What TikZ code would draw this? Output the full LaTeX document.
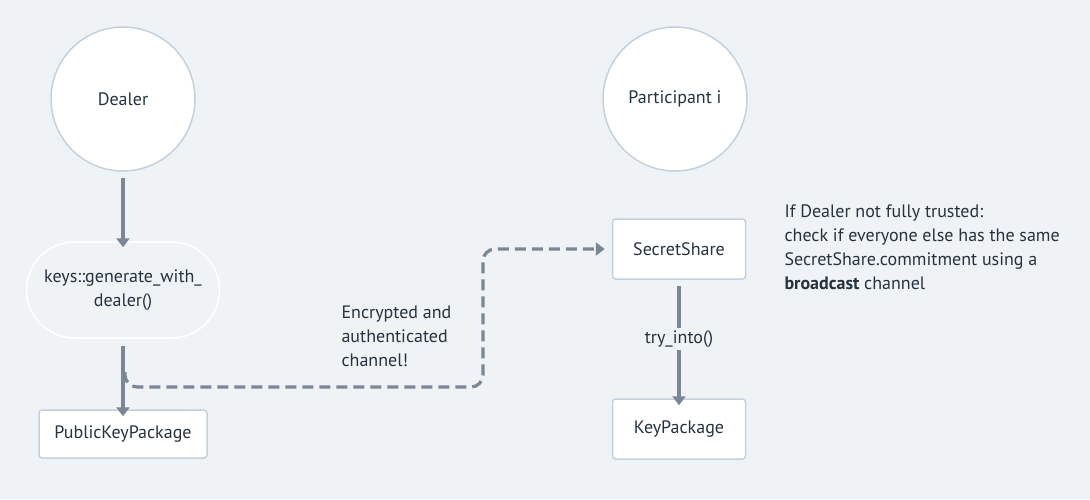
\documentclass[tikz,border=0pt]{standalone}
\usepackage{fontspec}
\setmainfont{PT Sans}
\usetikzlibrary{arrows.meta,positioning}
\definecolor{bg}{HTML}{EFF3F6}
\definecolor{edge}{HTML}{C5D1DC}
\definecolor{ink}{HTML}{27323F}
\definecolor{conn}{HTML}{7B8794}
\tikzset{
  txt/.style={font=\fontsize{18}{24}\selectfont, text=ink},
  circ/.style={circle, draw=edge, line width=1.5pt, fill=white, minimum size=144pt, inner sep=0pt, txt},
  box/.style={rectangle, rounded corners=3pt, draw=edge, line width=1.5pt, fill=white, inner sep=0pt, txt},
  stad/.style={rectangle, rounded corners=48pt, draw=white, line width=1.5pt, fill=bg, inner sep=0pt, txt, align=center},
  conn/.style={draw=conn, line width=3.2pt, -{Triangle[length=9pt,width=13pt]}},
  dconn/.style={conn, dash pattern=on 11pt off 6pt, rounded corners=12pt},
}
\begin{document}
\begin{tikzpicture}[x=1pt,y=-1pt]
\fill[bg] (0,0) rectangle (1090,499);
\useasboundingbox (0,0) rectangle (1090,499);

\node[circ] (dealer) at (123,99) {Dealer};
\node[circ] (part) at (675,99) {Participant i};
\node[stad, minimum width=193pt, minimum height=96pt] (keys) at (123,290) {keys::generate\_with\_\\dealer()};
\node[box, minimum width=168pt, minimum height=48pt] (pkp) at (123,434) {PublicKeyPackage};
\node[box, minimum width=133pt, minimum height=60pt] (ss) at (679,249) {SecretShare};
\node[box, minimum width=133pt, minimum height=60pt] (kp) at (679,429) {KeyPackage};

\node[txt, align=left, anchor=north west] (chan) at (338,302) {Encrypted and\\authenticated\\channel!};
\node[txt, align=left, anchor=north west] (note) at (781,201) {If Dealer not fully trusted:\\check if everyone else has the same\\SecretShare.commitment using a\\\textbf{broadcast} channel};
\node[txt, fill=bg, inner sep=2pt] (try) at (679,339) {try\_into()};

\draw[conn] ([yshift=-6pt]dealer.south) -- ([yshift=-6pt]keys.north);
\draw[conn] ([yshift=-7pt]keys.south) -- ([yshift=-7pt]pkp.north);
\draw[draw=conn, line width=3.2pt] ([yshift=-6pt]ss.south) -- (try.north);
\draw[conn] (try.south) -- ([yshift=-7pt]kp.north);

\coordinate (dstart) at (125,372);
\draw[dconn] (dstart) -- (125,387) -- (483,387) -- (483,249) -- ([xshift=-7pt]ss.west);
\end{tikzpicture}
\end{document}
